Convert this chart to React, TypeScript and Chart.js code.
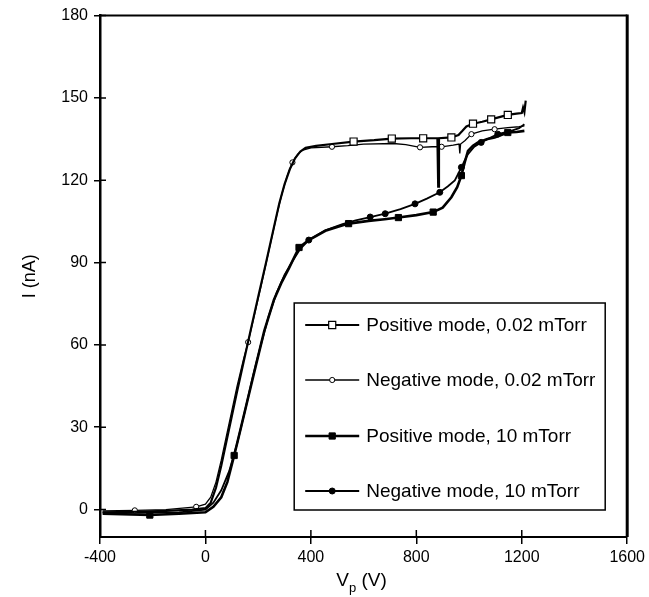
import { useEffect, useRef } from 'react';
import { Chart, registerables } from 'chart.js';

Chart.register(...registerables);

const xTicks = [-400, 0, 400, 800, 1200, 1600];
const yTicks = [0, 30, 60, 90, 120, 150, 180];

const seriesLabels = [
  'Positive mode, 0.02 mTorr',
  'Negative mode, 0.02 mTorr',
  'Positive mode, 10 mTorr',
  'Negative mode, 10 mTorr',
];

// [V, I]
const pos002: [number, number][] = [
  [-390, -1], [-270, -0.8], [-150, -0.5], [-50, 0], [0, 0.5], [20, 2.5], [40, 8], [60, 16],
  [80, 25], [100, 34], [120, 43], [150, 56], [172, 65.5], [200, 77.5], [230, 90], [260, 103],
  [280, 111.5], [300, 118.5], [320, 124], [340, 128], [360, 130.5], [380, 131.8], [420, 132.5],
  [480, 133.2], [562, 134.1], [640, 134.6], [707, 135.2], [780, 135.3], [826, 135.3], [880, 135.3],
  [883, 117.7], [886, 135.3], [933, 135.6], [960, 136.5], [975, 138], [990, 139.6], [1015, 140.6],
  [1050, 141.3], [1084, 142.2], [1115, 143], [1147, 143.8], [1180, 144.3], [1200, 144.5],
  [1205, 146.5], [1210, 144.8], [1215, 149],
];
const neg002: [number, number][] = [
  [-390, -0.5], [-268, -0.3], [-150, 0], [-35, 1], [0, 2], [20, 4.5], [40, 10], [60, 18],
  [80, 27], [100, 36], [120, 45], [145, 55], [162, 61], [180, 68.5], [210, 81], [240, 94],
  [270, 107], [290, 115], [310, 121.5], [330, 126.5], [350, 129.5], [370, 131], [400, 131.8],
  [480, 132.2], [540, 132.6], [600, 133.2], [713, 133.4], [760, 133], [814, 132], [860, 132.2],
  [896, 132.2], [940, 132.8], [962, 133.2], [965, 129.8], [968, 133.2], [985, 134.5],
  [1009, 136.8], [1050, 138], [1097, 138.6], [1147, 139.2], [1190, 139.5], [1210, 139.8],
];
const pos10: [number, number][] = [
  [-390, -1.5], [-211, -2], [-100, -1.5], [0, -1], [30, 1], [60, 4.5], [83, 10], [109, 19.7],
  [135, 30], [160, 40], [190, 52], [223, 65], [260, 76.5], [290, 83], [317, 88], [355, 95.5],
  [392, 98.2], [455, 101.6], [500, 103], [543, 104.2], [619, 105.2], [680, 105.8], [732, 106.4],
  [800, 107.3], [864, 108.4], [900, 110], [933, 113.8], [955, 117.5], [971, 121.7], [985, 127],
  [996, 130.7], [1015, 132.6], [1034, 133.8], [1070, 135], [1097, 135.6], [1147, 137.4],
  [1180, 137.6], [1210, 138],
];
const neg10: [number, number][] = [
  [-390, -1], [-250, -1.2], [-100, -1], [0, 0], [30, 2.5], [60, 7], [90, 14], [120, 24],
  [150, 36], [180, 48.5], [210, 60], [240, 70.5], [270, 79], [300, 85.5], [330, 90.5],
  [360, 95], [392, 98.2], [455, 101.8], [520, 104], [570, 105.4], [625, 106.6], [682, 107.8],
  [740, 109.5], [795, 111.4], [840, 113.3], [889, 115.6], [920, 117.8], [946, 119.9],
  [971, 124.7], [985, 127.5], [996, 129.5], [1020, 132.2], [1046, 133.8], [1080, 135.5],
  [1109, 136.8], [1160, 138], [1190, 139], [1210, 140.4],
];

// V positions where markers are shown
const pos002Markers = [562, 707, 826, 933, 1015, 1084, 1147];
const neg002Markers = [-268, -35, 162, 330, 480, 814, 896, 1009, 1097];
const pos10Markers = [-211, 109, 355, 543, 732, 864, 971, 1147];
const neg10Markers = [392, 625, 682, 795, 889, 971, 1046, 1109];

const FONT = '"Liberation Sans", Arial, Helvetica, sans-serif';

export default function App() {
  const ref = useRef<HTMLCanvasElement>(null);

  useEffect(() => {
    document.body.style.margin = '0';
    const toXY = (a: [number, number][]) => a.map(([x, y]) => ({ x, y }));
    const radiusFor = (markers: number[], r: number) => (c: any) =>
      c.raw && markers.includes(c.raw.x) ? r : 0;

    const styles = [
      { bw: 2.2, ps: 'rect', r: 5, bg: '#fff', pbw: 1.2, m: pos002Markers, d: pos002 },
      { bw: 1.3, ps: 'circle', r: 2.6, bg: '#fff', pbw: 1, m: neg002Markers, d: neg002 },
      { bw: 2.6, ps: 'rect', r: 4.4, bg: '#000', pbw: 1, m: pos10Markers, d: pos10 },
      { bw: 1.8, ps: 'circle', r: 3, bg: '#000', pbw: 1, m: neg10Markers, d: neg10 },
    ];

    const framePlugin = {
      id: 'frame',
      afterDraw(chart: any) {
        const { ctx, chartArea: a, scales } = chart;
        ctx.save();
        ctx.strokeStyle = '#000';
        // top and right borders
        ctx.lineWidth = 2;
        ctx.beginPath();
        ctx.moveTo(a.left, a.top);
        ctx.lineTo(a.right, a.top);
        ctx.stroke();
        ctx.lineWidth = 3;
        ctx.beginPath();
        ctx.moveTo(a.right, a.top - 1);
        ctx.lineTo(a.right, a.bottom);
        ctx.stroke();
        // inner tick parts
        ctx.lineWidth = 1.5;
        ctx.beginPath();
        xTicks.forEach((v) => {
          const px = scales.x.getPixelForValue(v);
          ctx.moveTo(px, a.bottom);
          ctx.lineTo(px, a.bottom - 7);
        });
        yTicks.forEach((v) => {
          const py = scales.y.getPixelForValue(v);
          ctx.moveTo(a.left, py);
          ctx.lineTo(a.left + 6, py);
        });
        ctx.stroke();

        // legend
        const bw = 311, bh = 207;
        const bx = a.right - 22 - bw;
        const by = a.bottom - 27 - bh;
        ctx.fillStyle = '#fff';
        ctx.fillRect(bx, by, bw, bh);
        ctx.lineWidth = 1.5;
        ctx.strokeRect(bx, by, bw, bh);
        const rows = [22, 77, 133, 188];
        chart.data.datasets.forEach((ds: any, i: number) => {
          const st = styles[i];
          const cy = by + rows[i];
          ctx.strokeStyle = '#000';
          ctx.lineWidth = st.bw;
          ctx.beginPath();
          ctx.moveTo(bx + 11, cy);
          ctx.lineTo(bx + 65, cy);
          ctx.stroke();
          const mx = bx + 38;
          ctx.fillStyle = st.bg;
          ctx.lineWidth = st.pbw;
          ctx.beginPath();
          if (st.ps === 'rect') {
            const s = st.r * Math.SQRT1_2;
            ctx.rect(mx - s, cy - s, 2 * s, 2 * s);
          } else {
            ctx.arc(mx, cy, st.r, 0, Math.PI * 2);
          }
          ctx.fill();
          ctx.stroke();
          ctx.fillStyle = '#000';
          ctx.font = `19px ${FONT}`;
          ctx.textBaseline = 'middle';
          ctx.textAlign = 'left';
          ctx.fillText(ds.label, bx + 72, cy + 1);
        });

        // x axis title with subscript
        const cx = (a.left + a.right) / 2 - 2;
        const base = 586;
        ctx.font = `19px ${FONT}`;
        const wV = ctx.measureText('V').width;
        const wR = ctx.measureText(' (V)').width;
        ctx.font = `13px ${FONT}`;
        const wp = ctx.measureText('p').width;
        let sx = cx - (wV + wp + wR) / 2;
        ctx.textBaseline = 'alphabetic';
        ctx.fillStyle = '#000';
        ctx.font = `19px ${FONT}`;
        ctx.fillText('V', sx, base);
        sx += wV;
        ctx.font = `13px ${FONT}`;
        ctx.fillText('p', sx, base + 6);
        sx += wp;
        ctx.font = `19px ${FONT}`;
        ctx.fillText(' (V)', sx, base);
        ctx.restore();
      },
    };

    const chart = new Chart(ref.current as HTMLCanvasElement, {
      type: 'line',
      data: {
        datasets: styles.map((st, i) => ({
          label: seriesLabels[i],
          data: toXY(st.d),
          borderColor: '#000',
          borderWidth: st.bw,
          pointStyle: st.ps as any,
          pointRadius: radiusFor(st.m, st.r) as any,
          pointHoverRadius: 0,
          pointBackgroundColor: st.bg,
          pointBorderColor: '#000',
          pointBorderWidth: st.pbw,
          tension: 0,
          fill: false,
        })),
      },
      options: {
        responsive: false,
        animation: false,
        events: [],
        layout: { padding: { left: 0, right: 19, top: 14, bottom: 0 } },
        plugins: { legend: { display: false }, tooltip: { enabled: false } },
        scales: {
          x: {
            type: 'linear',
            min: -400,
            max: 1600,
            afterBuildTicks: (s: any) => {
              s.ticks = xTicks.map((v) => ({ value: v }));
            },
            afterFit: (s: any) => {
              s.height = 60;
            },
            grid: {
              display: true,
              drawOnChartArea: false,
              drawTicks: true,
              tickLength: 7,
              color: '#000',
              lineWidth: 1.5,
            },
            border: { display: true, color: '#000', width: 2 },
            ticks: {
              color: '#000',
              padding: 4,
              font: { family: FONT, size: 16 },
              maxRotation: 0,
              autoSkip: false,
              callback: (v: any) => String(v),
            },
          },
          y: {
            type: 'linear',
            min: -10,
            max: 180,
            afterBuildTicks: (s: any) => {
              s.ticks = yTicks.map((v) => ({ value: v }));
            },
            afterFit: (s: any) => {
              s.width = 100;
            },
            grid: {
              display: true,
              drawOnChartArea: false,
              drawTicks: true,
              tickLength: 6,
              color: '#000',
              lineWidth: 1.5,
            },
            border: { display: true, color: '#000', width: 2.5 },
            ticks: {
              color: '#000',
              padding: 6,
              font: { family: FONT, size: 16 },
              autoSkip: false,
              callback: (v: any) => String(v),
            },
            title: {
              display: true,
              text: 'I (nA)',
              color: '#000',
              font: { family: FONT, size: 18 },
              padding: { top: 19, bottom: 0 },
            },
          },
        },
      },
      plugins: [framePlugin],
    });
    return () => chart.destroy();
  }, []);

  return (
    <div style={{ width: 649, height: 597 }}>
      <canvas ref={ref} width={649} height={597} style={{ display: 'block' }} />
    </div>
  );
}
